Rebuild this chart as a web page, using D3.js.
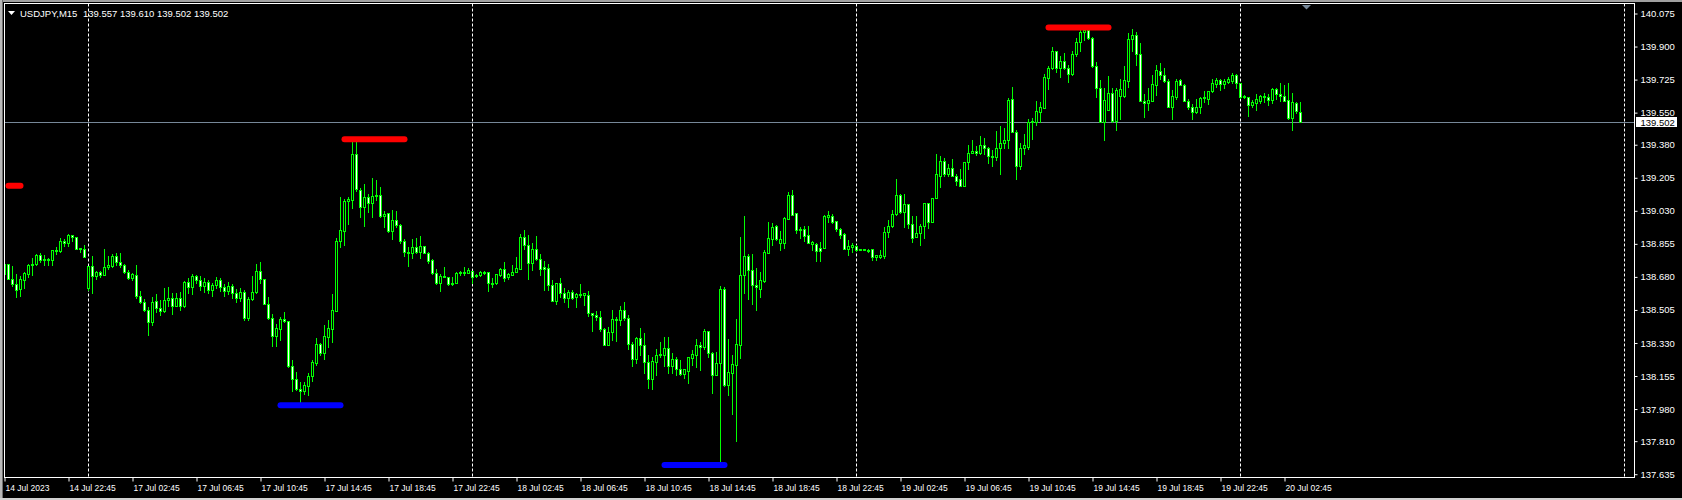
<!DOCTYPE html>
<html>
<head>
<meta charset="utf-8">
<script src="https://d3js.org/d3.v7.min.js"></script>
<style>
  html, body { margin: 0; padding: 0; background: #000; overflow: hidden; }
  svg { display: block; }
</style>
</head>
<body>
<div class="chart"></div>
<script>
/*** Data ***/

/* USDJPY M15, [open, high, low, close], first bar 14 Jul 2023 18:45 */
let candles = [
  [138.697,138.771,138.692,138.750], [138.750,138.750,138.670,138.670], [138.670,138.739,138.633,138.644], [138.644,138.697,138.575,138.612],
  [138.617,138.686,138.580,138.670], [138.665,138.707,138.623,138.702], [138.697,138.750,138.681,138.745], [138.745,138.782,138.692,138.750],
  [138.750,138.803,138.745,138.798], [138.798,138.808,138.760,138.771], [138.771,138.798,138.745,138.776], [138.776,138.782,138.745,138.771],
  [138.771,138.824,138.745,138.824], [138.824,138.840,138.803,138.819], [138.819,138.888,138.813,138.872], [138.872,138.882,138.845,138.861],
  [138.861,138.909,138.845,138.904], [138.904,138.904,138.872,138.893], [138.893,138.893,138.829,138.829], [138.829,138.835,138.813,138.835],
  [138.829,138.851,138.787,138.787], [138.623,138.739,138.612,138.739], [138.739,138.792,138.596,138.686], [138.686,138.713,138.670,138.707],
  [138.707,138.713,138.681,138.692], [138.692,138.829,138.692,138.734], [138.734,138.792,138.723,138.745], [138.739,138.803,138.734,138.792],
  [138.792,138.808,138.745,138.760], [138.760,138.808,138.734,138.745], [138.745,138.750,138.702,138.707], [138.707,138.718,138.670,138.676],
  [138.676,138.702,138.665,138.697], [138.692,138.745,138.570,138.580], [138.580,138.607,138.543,138.548], [138.548,138.564,138.501,138.506],
  [138.506,138.522,138.374,138.442], [138.442,138.575,138.427,138.548], [138.554,138.591,138.495,138.517], [138.517,138.559,138.480,138.501],
  [138.501,138.623,138.495,138.559], [138.559,138.628,138.527,138.570], [138.570,138.596,138.485,138.527], [138.527,138.596,138.527,138.570],
  [138.570,138.601,138.506,138.527], [138.527,138.660,138.522,138.654], [138.654,138.676,138.596,138.628], [138.628,138.697,138.591,138.686],
  [138.686,138.692,138.649,138.665], [138.665,138.686,138.612,138.633], [138.633,138.676,138.601,138.654], [138.654,138.665,138.596,138.612],
  [138.612,138.649,138.580,138.639], [138.639,138.681,138.623,138.665], [138.665,138.676,138.607,138.628], [138.628,138.644,138.580,138.607],
  [138.607,138.654,138.591,138.633], [138.633,138.644,138.570,138.596], [138.596,138.617,138.548,138.570], [138.570,138.623,138.554,138.601],
  [138.601,138.612,138.453,138.464], [138.464,138.575,138.453,138.564], [138.564,138.686,138.559,138.601], [138.601,138.750,138.596,138.713],
  [138.713,138.760,138.649,138.670], [138.670,138.670,138.538,138.538], [138.538,138.575,138.458,138.464], [138.464,138.485,138.315,138.368],
  [138.368,138.432,138.315,138.411], [138.405,138.469,138.347,138.458], [138.458,138.495,138.442,138.448], [138.448,138.448,138.204,138.209],
  [138.209,138.241,138.077,138.140], [138.140,138.177,138.082,138.087], [138.087,138.124,138.018,138.077], [138.077,138.124,138.061,138.109],
  [138.103,138.172,138.056,138.156], [138.156,138.241,138.130,138.230], [138.225,138.358,138.215,138.326], [138.326,138.331,138.268,138.278],
  [138.278,138.427,138.246,138.368], [138.363,138.453,138.310,138.411], [138.405,138.591,138.336,138.506], [138.501,138.888,138.501,138.872],
  [138.872,139.105,138.840,138.930], [138.925,139.094,138.851,139.084], [139.084,139.105,138.962,139.094], [139.089,139.396,139.047,139.333],
  [139.333,139.396,139.137,139.147], [139.142,139.153,138.999,139.052], [139.052,139.174,138.951,139.105], [139.105,139.121,139.025,139.073],
  [139.073,139.206,138.999,139.110], [139.110,139.195,139.089,139.116], [139.116,139.158,138.999,139.004], [139.004,139.031,138.946,139.015],
  [139.020,139.020,138.919,138.925], [138.925,139.036,138.882,138.983], [138.983,139.031,138.946,138.957], [138.957,138.962,138.861,138.872],
  [138.872,138.882,138.792,138.813], [138.813,138.840,138.739,138.808], [138.808,138.882,138.782,138.840], [138.840,138.888,138.808,138.813],
  [138.813,138.898,138.782,138.845], [138.845,138.845,138.808,138.808], [138.808,138.813,138.755,138.766], [138.771,138.776,138.697,138.702],
  [138.702,138.723,138.644,138.649], [138.649,138.697,138.607,138.686], [138.686,138.734,138.681,138.681], [138.681,138.681,138.639,138.644],
  [138.644,138.681,138.639,138.649], [138.649,138.707,138.649,138.702], [138.702,138.713,138.692,138.707], [138.702,138.734,138.692,138.707],
  [138.702,138.729,138.702,138.718], [138.713,138.713,138.649,138.681], [138.686,138.697,138.681,138.692], [138.692,138.713,138.686,138.707],
  [138.707,138.713,138.697,138.702], [138.707,138.707,138.607,138.649], [138.649,138.676,138.628,138.644], [138.649,138.697,138.644,138.697],
  [138.692,138.729,138.686,138.723], [138.723,138.760,138.660,138.676], [138.681,138.702,138.670,138.697], [138.692,138.745,138.692,138.707],
  [138.707,138.787,138.707,138.729], [138.723,138.909,138.723,138.893], [138.893,138.930,138.829,138.851], [138.851,138.904,138.670,138.755],
  [138.755,138.861,138.718,138.829], [138.829,138.898,138.771,138.776], [138.776,138.803,138.692,138.723], [138.734,138.766,138.612,138.723],
  [138.729,138.750,138.612,138.639], [138.639,138.665,138.554,138.554], [138.554,138.649,138.538,138.649], [138.649,138.676,138.575,138.596],
  [138.596,138.623,138.548,138.570], [138.570,138.612,138.522,138.601], [138.601,138.612,138.564,138.570], [138.575,138.596,138.522,138.591],
  [138.591,138.644,138.575,138.586], [138.586,138.596,138.533,138.596], [138.586,138.607,138.474,138.490], [138.490,138.490,138.395,138.480],
  [138.480,138.501,138.453,138.469], [138.469,138.501,138.395,138.405], [138.405,138.411,138.321,138.321], [138.321,138.416,138.321,138.389],
  [138.389,138.506,138.347,138.458], [138.458,138.469,138.342,138.453], [138.453,138.527,138.427,138.506], [138.506,138.548,138.453,138.464],
  [138.464,138.480,138.299,138.326], [138.326,138.336,138.209,138.246], [138.246,138.363,138.225,138.358], [138.358,138.411,138.268,138.321],
  [138.321,138.384,138.172,138.230], [138.230,138.268,138.093,138.140], [138.140,138.257,138.087,138.236], [138.230,138.299,138.162,138.268],
  [138.268,138.336,138.257,138.273], [138.268,138.363,138.209,138.305], [138.305,138.363,138.172,138.209], [138.209,138.278,138.172,138.246],
  [138.246,138.257,138.162,138.193], [138.193,138.241,138.162,138.167], [138.167,138.193,138.146,138.193], [138.183,138.257,138.119,138.257],
  [138.252,138.294,138.215,138.273], [138.268,138.352,138.204,138.321], [138.321,138.336,138.188,138.310], [138.310,138.405,138.299,138.395],
  [138.395,138.395,138.257,138.278], [138.278,138.283,138.066,138.162], [138.162,138.283,138.162,138.225], [138.225,138.633,137.700,138.617],
  [138.617,138.628,138.103,138.109], [138.109,138.352,138.056,138.177], [138.172,138.268,137.955,138.220], [138.215,138.458,137.812,138.326],
  [138.321,138.893,138.252,138.692], [138.692,139.004,138.596,138.792], [138.792,138.803,138.564,138.718], [138.718,138.803,138.538,138.639],
  [138.639,138.729,138.506,138.628], [138.617,138.707,138.575,138.665], [138.660,138.824,138.654,138.813], [138.808,138.972,138.808,138.888],
  [138.882,138.967,138.851,138.946], [138.951,138.957,138.877,138.882], [138.861,138.925,138.824,138.882], [138.861,138.999,138.835,138.994],
  [138.988,139.131,138.988,139.116], [139.116,139.142,139.010,139.010], [139.020,139.020,138.914,138.930], [138.930,138.946,138.888,138.935],
  [138.935,138.951,138.872,138.898], [138.904,138.951,138.861,138.861], [138.856,138.872,138.824,138.866], [138.856,138.861,138.766,138.819],
  [138.835,138.866,138.766,138.819], [138.835,139.010,138.835,139.004], [138.999,139.031,138.972,139.010], [139.004,139.015,138.967,138.972],
  [138.978,138.978,138.925,138.935], [138.935,138.941,138.888,138.904], [138.909,138.914,138.829,138.829], [138.829,138.877,138.798,138.845],
  [138.840,138.861,138.813,138.851], [138.845,138.851,138.819,138.824], [138.824,138.829,138.824,138.829], [138.829,138.829,138.824,138.824],
  [138.824,138.829,138.813,138.819], [138.829,138.829,138.771,138.787], [138.787,138.798,138.771,138.798], [138.787,138.824,138.782,138.798],
  [138.792,138.946,138.782,138.919], [138.919,138.983,138.893,138.951], [138.951,139.036,138.946,139.015], [139.015,139.200,139.010,139.116],
  [139.116,139.121,139.020,139.025], [139.025,139.121,138.946,139.068], [139.068,139.068,138.941,138.962], [138.962,139.004,138.866,138.888],
  [138.893,139.004,138.893,138.914], [138.914,138.962,138.851,138.951], [138.951,139.073,138.888,139.073], [139.073,139.073,138.941,138.972],
  [138.972,139.100,138.972,139.100], [139.100,139.333,139.100,139.227], [139.216,139.322,139.158,139.296], [139.296,139.312,139.216,139.227],
  [139.227,139.280,139.216,139.259], [139.259,139.306,139.216,139.216], [139.216,139.227,139.169,139.190], [139.200,139.253,139.163,139.163],
  [139.163,139.290,139.163,139.290], [139.290,139.381,139.253,139.338], [139.338,139.407,139.338,139.349], [139.349,139.375,139.328,139.338],
  [139.338,139.428,139.333,139.381], [139.381,139.418,139.333,139.365], [139.365,139.370,139.285,139.322], [139.322,139.354,139.269,139.317],
  [139.317,139.455,139.301,139.365], [139.365,139.481,139.227,139.391], [139.391,139.471,139.365,139.407], [139.407,139.630,139.365,139.619],
  [139.624,139.688,139.449,139.449], [139.449,139.460,139.200,139.269], [139.269,139.391,139.253,139.365], [139.365,139.439,139.333,139.381],
  [139.370,139.518,139.359,139.502], [139.502,139.524,139.412,139.508], [139.502,139.614,139.487,139.561], [139.555,139.608,139.502,139.582],
  [139.577,139.757,139.577,139.741], [139.736,139.799,139.677,139.789], [139.789,139.900,139.783,139.879], [139.879,139.879,139.767,139.789],
  [139.789,139.852,139.741,139.826], [139.826,139.868,139.783,139.789], [139.789,139.805,139.714,139.757], [139.757,139.879,139.752,139.863],
  [139.863,139.948,139.852,139.926], [139.926,139.990,139.879,139.979], [139.979,140.001,139.937,139.990], [139.990,140.001,139.942,139.948],
  [139.948,139.953,139.794,139.799], [139.799,139.820,139.635,139.683], [139.683,139.725,139.502,139.502], [139.502,139.683,139.407,139.619],
  [139.566,139.746,139.566,139.656], [139.656,139.683,139.502,139.508], [139.508,139.683,139.460,139.672], [139.640,139.730,139.518,139.677],
  [139.640,139.799,139.635,139.725], [139.720,139.974,139.688,139.942], [139.942,139.995,139.879,139.964], [139.964,139.979,139.805,139.863],
  [139.863,139.921,139.614,139.614], [139.614,139.651,139.529,139.603], [139.603,139.683,139.566,139.619], [139.614,139.752,139.614,139.704],
  [139.699,139.805,139.646,139.778], [139.773,139.815,139.730,139.752], [139.752,139.789,139.714,139.720], [139.720,139.730,139.582,139.582],
  [139.582,139.672,139.518,139.640], [139.635,139.730,139.624,139.720], [139.725,139.730,139.699,139.699], [139.699,139.704,139.614,139.614],
  [139.614,139.624,139.571,139.582], [139.582,139.598,139.518,139.555], [139.555,139.624,139.550,139.582], [139.582,139.635,139.550,139.630],
  [139.630,139.667,139.608,139.635], [139.624,139.667,139.598,139.667], [139.667,139.730,139.661,139.709], [139.704,139.736,139.688,139.725],
  [139.725,139.730,139.672,139.704], [139.704,139.730,139.683,139.720], [139.714,139.741,139.709,139.730], [139.720,139.762,139.709,139.752],
  [139.752,139.757,139.683,139.709], [139.709,139.709,139.630,139.635], [139.635,139.646,139.630,139.640], [139.635,139.635,139.534,139.593],
  [139.593,139.619,139.582,139.608], [139.603,139.651,139.566,139.624], [139.614,139.646,139.603,139.640], [139.640,139.656,139.608,139.635],
  [139.635,139.651,139.593,139.619], [139.619,139.683,139.603,139.677], [139.677,139.683,139.624,139.651], [139.651,139.709,139.614,139.640],
  [139.640,139.699,139.614,139.614], [139.619,139.709,139.518,139.524], [139.524,139.656,139.460,139.608], [139.603,139.608,139.550,139.561],
  [139.557,139.610,139.502,139.502]
]

let symbol = "USDJPY,M15"

/* one label every 16 bars */
let timeLabels = [
  "14 Jul 2023", "14 Jul 22:45", "17 Jul 02:45", "17 Jul 06:45", "17 Jul 10:45", "17 Jul 14:45", "17 Jul 18:45",
  "17 Jul 22:45", "18 Jul 02:45", "18 Jul 06:45", "18 Jul 10:45", "18 Jul 14:45", "18 Jul 18:45", "18 Jul 22:45",
  "19 Jul 02:45", "19 Jul 06:45", "19 Jul 10:45", "19 Jul 14:45", "19 Jul 18:45", "19 Jul 22:45", "20 Jul 02:45"
]
let barsPerLabel = 16

let priceTicks = [140.075, 139.900, 139.725, 139.550, 139.380, 139.205, 139.030, 138.855,
                  138.680, 138.505, 138.330, 138.155, 137.980, 137.810, 137.635]

/* bar index of each day start (period separators) */
let dayStarts = [21, 117, 213, 309, 405]

/* highs / lows marked by the indicator: bar from, bar to, price */
let highLevels = [
  {from: 1, to: 4, price: 139.165},
  {from: 85, to: 100, price: 139.412},
  {from: 261, to: 276, price: 140.003}
]
let lowLevels = [
  {from: 69, to: 84, price: 138.003},
  {from: 165, to: 180, price: 137.686}
]

/*** Layout ***/

const svgWidth = 1682
const svgHeight = 500

const plotLeft = 4.5
const plotRight = 1634.5
const plotTop = 3.5
const plotBottom = 477.5

const lime = "#00ff00"
const bidColor = "#778899"
const font = "'Liberation Sans', Arial, sans-serif"

let svg = d3.select(".chart")
    .append("svg")
    .attr("width", svgWidth)
    .attr("height", svgHeight)
    .style("background-color", "black")

/* window edges */
svg.append("rect").attr("x", 0).attr("y", 0).attr("width", svgWidth).attr("height", 2).attr("fill", "#a0a0a0")
svg.append("rect").attr("x", 0).attr("y", 0).attr("width", 2).attr("height", svgHeight).attr("fill", "#b8b8b8")
svg.append("rect").attr("x", 2).attr("y", 0).attr("width", 1).attr("height", svgHeight).attr("fill", "#707070")
svg.append("rect").attr("x", 0).attr("y", svgHeight - 2).attr("width", svgWidth).attr("height", 2).attr("fill", "#d0d0d0")

/* Scales */

let xScale = d3.scaleLinear()
    .domain([0, candles.length - 1])
    .range([4.5, 4.5 + 4 * (candles.length - 1)])

let yScale = d3.scaleLinear()
    .domain([137.635, 140.075])
    .range([474.7, 14])

const px = (i) => Math.floor(xScale(i))
const py = (p) => Math.round(yScale(p))

svg.append("defs").append("clipPath")
    .attr("id", "plot-clip")
    .append("rect")
    .attr("x", plotLeft + 0.5)
    .attr("y", plotTop + 0.5)
    .attr("width", plotRight - plotLeft - 1)
    .attr("height", plotBottom - plotTop - 1)

let plot = svg.append("g").attr("clip-path", "url(#plot-clip)")

/* period separators */
plot.selectAll("line.sep")
    .data(dayStarts)
    .enter()
    .append("line")
    .attr("x1", (d) => px(d) + 0.5)
    .attr("x2", (d) => px(d) + 0.5)
    .attr("y1", plotTop)
    .attr("y2", plotBottom)
    .attr("stroke", "white")
    .attr("stroke-dasharray", "3,2")

/* bid line */
let lastBar = candles[candles.length - 1]
let bidY = py(lastBar[3]) + 0.5

plot.append("line")
    .attr("x1", plotLeft)
    .attr("x2", plotRight)
    .attr("y1", bidY)
    .attr("y2", bidY)
    .attr("stroke", bidColor)

/* candles: wick, body outline, body fill */
plot.selectAll("rect.wick")
    .data(candles)
    .enter()
    .append("rect")
    .attr("x", (d, i) => px(i))
    .attr("y", (d) => py(d[1]))
    .attr("width", 1)
    .attr("height", (d) => py(d[2]) - py(d[1]) + 1)
    .attr("fill", lime)

plot.selectAll("rect.body")
    .data(candles)
    .enter()
    .append("rect")
    .attr("x", (d, i) => px(i) - 1)
    .attr("y", (d) => py(Math.max(d[0], d[3])))
    .attr("width", 3)
    .attr("height", (d) => py(Math.min(d[0], d[3])) - py(Math.max(d[0], d[3])) + 1)
    .attr("fill", lime)

plot.selectAll("rect.fill")
    .data(candles.map((d, i) => ({d: d, i: i}))
        .filter((c) => py(Math.min(c.d[0], c.d[3])) - py(Math.max(c.d[0], c.d[3])) >= 2))
    .enter()
    .append("rect")
    .attr("x", (c) => px(c.i))
    .attr("y", (c) => py(Math.max(c.d[0], c.d[3])) + 1)
    .attr("width", 1)
    .attr("height", (c) => py(Math.min(c.d[0], c.d[3])) - py(Math.max(c.d[0], c.d[3])) - 1)
    .attr("fill", (c) => c.d[3] < c.d[0] ? "white" : "black")

/* high / low markers */
let drawLevels = (levels, color) => {
    plot.selectAll(null)
        .data(levels)
        .enter()
        .append("line")
        .attr("x1", (d) => xScale(d.from))
        .attr("x2", (d) => xScale(d.to))
        .attr("y1", (d) => yScale(d.price))
        .attr("y2", (d) => yScale(d.price))
        .attr("stroke", color)
        .attr("stroke-width", 6)
        .attr("stroke-linecap", "round")
}
drawLevels(highLevels, "#ff0000")
drawLevels(lowLevels, "#0000ff")

/* frame */
svg.append("rect")
    .attr("x", plotLeft)
    .attr("y", plotTop)
    .attr("width", plotRight - plotLeft)
    .attr("height", plotBottom - plotTop)
    .attr("fill", "none")
    .attr("stroke", "white")

/* Axes */

let bottomAxis = d3.axisBottom(xScale)
    .tickValues(timeLabels.map((d, k) => k * barsPerLabel))
    .tickFormat((d, k) => timeLabels[k])
    .tickSize(4)
    .tickSizeOuter(0)
    .offset(0)

let xAxis = svg.append("g")
    .attr("transform", `translate(0, ${plotBottom})`)
    .call(bottomAxis)

xAxis.select("path").remove()

xAxis.selectAll("line")
    .attr("stroke", "white")
    .attr("transform", "translate(0.5, 0)")

xAxis.selectAll("text")
    .attr("text-anchor", "start")
    .attr("x", 1)
    .attr("y", 7)
    .attr("fill", "white")
    .style("font-family", font)
    .style("font-size", "8.5px")

let rightAxis = d3.axisRight(yScale)
    .tickValues(priceTicks)
    .tickFormat(d3.format(".3f"))
    .tickSize(3)
    .tickSizeOuter(0)
    .offset(0)

let yAxis = svg.append("g")
    .attr("transform", `translate(${plotRight}, 0)`)
    .call(rightAxis)

yAxis.select("path").remove()

yAxis.selectAll("line")
    .attr("stroke", "white")

yAxis.selectAll("text")
    .attr("x", 6)
    .attr("fill", "white")
    .style("font-family", font)
    .style("font-size", "9.5px")

/* bid label */
svg.append("rect")
    .attr("x", 1636)
    .attr("y", bidY - 5.5)
    .attr("width", 41)
    .attr("height", 10)
    .attr("fill", "white")

svg.append("text")
    .attr("x", plotRight + 6)
    .attr("y", bidY)
    .attr("dy", "0.32em")
    .attr("fill", "black")
    .style("font-family", font)
    .style("font-size", "9.5px")
    .text(d3.format(".3f")(lastBar[3]))

/* chart shift marker */
let shiftX = xScale(candles.length - 1) + 6
svg.append("path")
    .attr("d", `M${shiftX - 4.5},5 L${shiftX + 4.5},5 L${shiftX},9.5 Z`)
    .attr("fill", bidColor)

/* header */
svg.append("path")
    .attr("d", "M8,11 L15,11 L11.5,15 Z")
    .attr("fill", "white")

svg.append("text")
    .attr("x", 20)
    .attr("y", 16.5)
    .attr("fill", "white")
    .style("font-family", font)
    .style("font-size", "9.5px")
    .text(symbol)

svg.append("text")
    .attr("x", 83)
    .attr("y", 16.5)
    .attr("fill", "white")
    .style("font-family", font)
    .style("font-size", "9.5px")
    .text([lastBar[0], lastBar[1], lastBar[2], lastBar[3]].map(d3.format(".3f")).join(" "))
</script>
</body>
</html>
